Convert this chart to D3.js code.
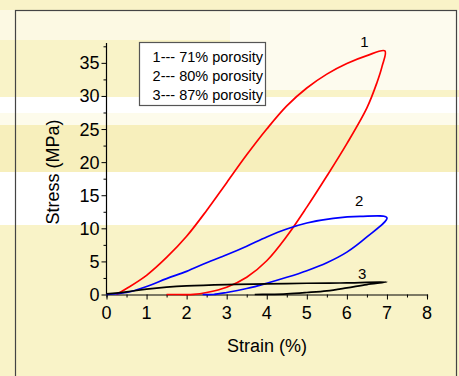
<!DOCTYPE html>
<html><head><meta charset="utf-8">
<script src="https://cdn.jsdelivr.net/npm/d3@7"></script>
<style>body{margin:0;background:#fff}svg{display:block;font-family:"Liberation Sans",Arial,sans-serif}</style>
</head><body><svg id="c" width="459" height="376"></svg>
<script>
const xTicks = [0,1,2,3,4,5,6,7,8];
const yTicks = [0,5,10,15,20,25,30,35];
const legendLabels = ["1--- 71% porosity","2--- 80% porosity","3--- 87% porosity"];
const curveLabels = ["1","2","3"];
// strain (%), stress (MPa) : loading then unloading
const s1x = [0.25,0.5,1.0,1.5,2.0,2.5,3.0,3.5,4.0,4.5,5.0,5.5,6.0,6.5,6.95, 6.88,6.75,6.5,6.0,5.5,5.0,4.5,4.0,3.5,3.0,2.5,2.17,1.8,1.5];
const s1y = [0,0.9,2.9,5.6,8.8,12.7,16.9,21.1,25.0,28.5,31.2,33.3,34.9,36.1,36.8, 34.5,32.0,28.2,22.8,17.9,13.2,8.8,5.1,2.6,1.1,0.3,0.02,0,0];
const s2x = [0,0.5,1.0,1.5,2.0,2.5,3.0,3.5,4.0,4.5,5.0,5.66,6.33,7.0, 6.5,6.0,5.5,5.0,4.5,4.0,3.5,3.0,2.67,2.4];
const s2y = [0,0.3,1.2,2.4,3.5,4.8,6.0,7.3,8.7,9.9,10.8,11.5,11.8,11.6, 8.7,6.4,4.8,3.6,2.6,1.7,0.9,0.3,0,0];
const s3x = [0,0.5,1.0,1.5,2.0,3.0,4.0,5.0,6.0,7.0, 6.5,6.0,5.5,5.0,4.5,4.0,3.7];
const s3y = [0.1,0.4,0.8,1.1,1.3,1.5,1.6,1.7,1.75,1.9, 1.5,1.0,0.55,0.3,0.1,0.02,0];
const colors = ["#ff0000","#0000ff","#000000"];

const svg = d3.select("#c");
// background
svg.append("rect").attr("width",459).attr("height",376).attr("fill","#f9f3c8");
const bands = [[0,10,459,30,"#fcf9e3"],[230,10,229,80,"#fdfbee"],[0,97,459,16,"#ffffff"],[0,113,459,12,"#fdfbeb"],[0,172,459,53,"#ffffff"],[0,125,459,47,"#f7efbc"]];
bands.forEach(b=>svg.append("rect").attr("x",b[0]).attr("y",b[1]).attr("width",b[2]).attr("height",b[3]).attr("fill",b[4]));
svg.append("rect").attr("x",15.5).attr("y",10.5).attr("width",441).attr("height",380).attr("fill","none").attr("stroke","#444").attr("stroke-width",1.2);

const x = d3.scaleLinear().domain([0,8]).range([106.5,427]);
const y = d3.scaleLinear().domain([0,38]).range([294.5,43]);

const gx = svg.append("g").attr("transform","translate(0,294.5)");
gx.call(d3.axisBottom(x).tickValues(d3.range(0,8.01,0.5)).tickSize(3).tickFormat(""));
gx.call(g=>g.selectAll(".tick line").attr("y2",d=>Number.isInteger(d)?5:3));
gx.selectAll(".tick text").remove();
xTicks.forEach(t=>gx.append("text").attr("x",x(t)).attr("y",24).attr("text-anchor","middle").attr("font-size",18).attr("fill","#000").text(t));
gx.select(".domain").attr("stroke-width",1.2);

const gy = svg.append("g").attr("transform","translate(106.5,0)");
gy.call(d3.axisLeft(y).tickValues(d3.range(0,37.6,2.5)).tickSizeOuter(0).tickFormat(""));
gy.call(g=>g.selectAll(".tick line").attr("x2",d=>d%5===0?-5:-3));
gy.select(".domain").attr("d","M0,"+y(0)+"V"+y(38)).attr("stroke-width",1.2);
yTicks.forEach(t=>gy.append("text").attr("x",-7).attr("y",y(t)+6.5).attr("text-anchor","end").attr("font-size",18).attr("fill","#000").text(t));

const line = d3.line().x(d=>x(d[0])).y(d=>y(d[1])).curve(d3.curveCatmullRom.alpha(0.5));
[[s1x,s1y],[s2x,s2y],[s3x,s3y]].forEach((s,i)=>{
  const pts = s[0].map((v,j)=>[v,s[1][j]]);
  svg.append("path").attr("d",line(pts)).attr("fill","none").attr("stroke",colors[i]).attr("stroke-width",1.7);
});

// curve labels
const lblPos = [[6.44,37.4],[6.31,13.4],[6.38,2.3]];
curveLabels.forEach((t,i)=>svg.append("text").attr("x",x(lblPos[i][0])).attr("y",y(lblPos[i][1])).attr("text-anchor","middle").attr("font-size",15).text(t));

// legend
svg.append("rect").attr("x",139.5).attr("y",42.5).attr("width",126).attr("height",63).attr("fill","#fff").attr("stroke","#555").attr("stroke-width",1.2);
legendLabels.forEach((t,i)=>svg.append("text").attr("x",263).attr("y",62+i*19).attr("text-anchor","end").attr("font-size",14.5).text(t));

svg.append("text").attr("x",267).attr("y",352).attr("text-anchor","middle").attr("font-size",18).text("Strain (%)");
svg.append("text").attr("transform","translate(59,172) rotate(-90)").attr("text-anchor","middle").attr("font-size",18).text("Stress (MPa)");
</script></body></html>
